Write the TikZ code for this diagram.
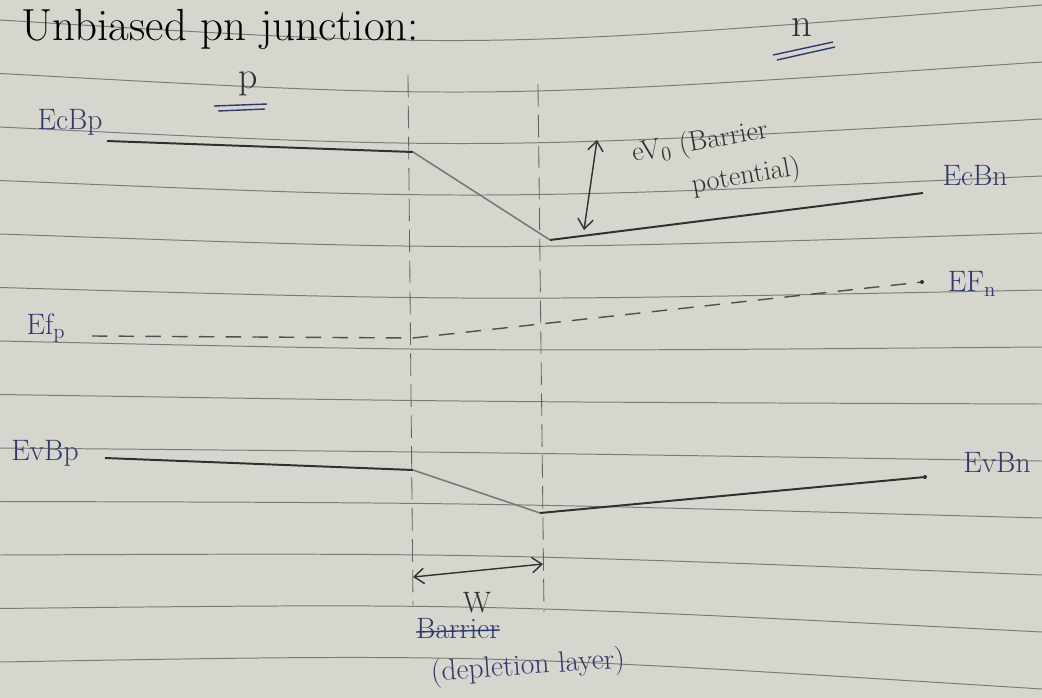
\documentclass[tikz,border=0pt]{standalone}
\usepackage{tikz}
\usetikzlibrary{arrows.meta, positioning, calc}

\definecolor{paper}{HTML}{D6D6CE}
\definecolor{ruling}{HTML}{7C7C76}
\definecolor{pencil}{HTML}{303030}
\definecolor{bluink}{HTML}{2E3A6E}

\begin{document}
\begin{tikzpicture}[
    x=0.025cm, y=-0.025cm,
    every node/.style={inner sep=1pt},
    ruled/.style={ruling, line width=0.7pt},
    band/.style={pencil, line width=1.4pt},
    slope/.style={pencil!65, line width=1.1pt},
    fermi/.style={pencil!85, line width=1pt, dash pattern=on 11pt off 8pt},
    junction/.style={pencil!75, line width=0.6pt, dash pattern=on 16pt off 6pt},
    blabel/.style={text=bluink, font=\fontsize{21}{24}\selectfont},
    klabel/.style={text=pencil, font=\fontsize{21}{24}\selectfont},
    twohead/.style={{Straight Barb[length=7pt,width=11pt]}-{Straight Barb[length=7pt,width=11pt]},
                    pencil, line width=1pt}
]

% paper and its ruling
\fill[paper] (0,0) rectangle (1042,698);
\useasboundingbox (0,0) rectangle (1042,698);
\foreach \k in {0,...,12}
    \draw[ruled] (0,{20+53.5*\k}) .. controls (479,{49.5+50.35*\k}) .. (1042,{5+57*\k});

% heading and sides
\node (title) [text=black, font=\fontsize{32}{36}\selectfont, anchor=base west] at (20,40)
    {Unbiased pn junction:};
\node (ptype) [klabel, font=\fontsize{27}{30}\selectfont] at (248,84) {p};
\draw[bluink, line width=1pt] (214,106) -- (267,104);
\draw[bluink, line width=1pt] (218,111) -- (265,109);
\node (ntype) [klabel, font=\fontsize{29}{32}\selectfont] at (802,28) {n};
\draw[bluink, line width=1pt] (773,55) -- (833,42);
\draw[bluink, line width=1pt] (777,60) -- (835,47);

% edges of the depletion layer
\coordinate (jl-top) at (408,75);
\coordinate (jl-bot) at (413,605);
\coordinate (jr-top) at (538,84);
\coordinate (jr-bot) at (544,612);
\draw[junction] (jl-top) -- (jl-bot);
\draw[junction] (jr-top) -- (jr-bot);

% conduction band
\coordinate (cbp-a) at (107,141);
\coordinate (cbp-b) at (413,152);
\coordinate (cbn-a) at (550,240);
\coordinate (cbn-b) at (923,193);
\draw[band] (cbp-a) -- (cbp-b);
\draw[slope] (cbp-b) -- (cbn-a);
\draw[band] (cbn-a) -- (cbn-b);
\node (ecbp) [blabel] at (70,122) {EcBp};
\node (ecbn) [blabel] at (975,176) {EcBn};

% barrier
\coordinate (bar-top) at (597,140);
\coordinate (bar-bot) at (584,230);
\draw[twohead] (bar-top) -- (bar-bot);
\node (barrier) [text=pencil, font=\fontsize{20}{24}\selectfont, rotate=10, inner sep=0pt]
    at (700,143) {eV$_0$ (Barrier};
\node (potl) [text=pencil, font=\fontsize{20}{24}\selectfont, rotate=10, inner sep=0pt]
    at (746,177) {potential)};

% fermi level
\coordinate (efp-a) at (92,336);
\coordinate (ef-mid) at (413,338);
\coordinate (efn-b) at (922,282);
\draw[fermi] (efp-a) -- (ef-mid) -- (efn-b);
\fill[pencil] (efn-b) circle (2);
\node (efp) [blabel] at (46,328) {Ef\textsubscript{p}};
\node (efn) [blabel] at (972,284) {EF\textsubscript{n}};

% valence band
\coordinate (vbp-a) at (105,458);
\coordinate (vbp-b) at (413,470);
\coordinate (vbn-a) at (540,513);
\coordinate (vbn-b) at (925,477);
\draw[band] (vbp-a) -- (vbp-b);
\draw[slope] (vbp-b) -- (vbn-a);
\draw[band] (vbn-a) -- (vbn-b);
\fill[pencil] (vbn-b) circle (2);
\node (evbp) [blabel] at (45,453) {EvBp};
\node (evbn) [blabel] at (997,463) {EvBn};

% width of the layer
\coordinate (w-a) at (413,577);
\coordinate (w-b) at (543,564);
\draw[twohead] (w-a) -- (w-b);
\node (wlabel) [klabel] at (477,603) {W};
\node (struck) [blabel, inner sep=0pt] at (458,629) {Barrier};
\draw[bluink, line width=1pt] ($(struck.west)+(0,3)$) -- ($(struck.east)+(0,1)$);
\node (depl) [blabel, rotate=4, inner sep=0pt] at (528,667) {(depletion layer)};
\end{tikzpicture}
\end{document}
